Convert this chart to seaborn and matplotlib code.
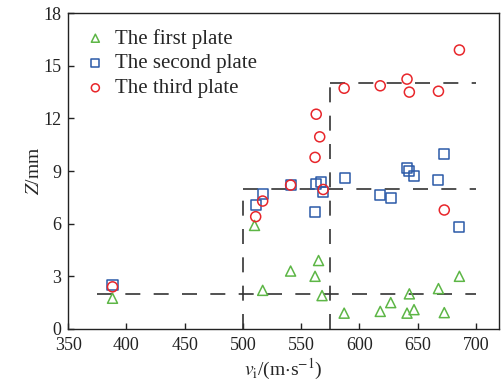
import matplotlib
matplotlib.use("Agg")
import matplotlib.pyplot as plt
import seaborn as sns
import pandas as pd

# data
first_v = [388, 510, 517, 541, 562, 565, 568, 587, 618, 627, 641, 643, 647, 668, 673, 686]
first_z = [1.75, 5.9, 2.2, 3.3, 3.0, 3.9, 1.9, 0.9, 1.0, 1.5, 0.9, 2.0, 1.1, 2.3, 0.93, 3.0]

second_v = [388, 511, 517, 541, 562, 563, 567, 569, 588, 618, 627, 641, 643, 647, 668, 673, 686]
second_z = [2.5, 7.06, 7.69, 8.2, 6.66, 8.24, 8.37, 7.78, 8.6, 7.63, 7.46, 9.15, 9.0, 8.7, 8.5, 9.95, 5.83]

third_v = [388, 511, 517, 541, 562, 563, 566, 569, 587, 618, 641, 643, 668, 673, 686]
third_z = [2.4, 6.4, 7.29, 8.2, 9.78, 12.24, 10.95, 7.95, 13.72, 13.86, 14.24, 13.5, 13.55, 6.78, 15.9]

labels = ["The first plate", "The second plate", "The third plate"]

# threshold step lines
step_h = [(2, 375, 700), (8, 500, 700), (14, 575, 700)]
step_v = [(500, 0, 8), (575, 0, 14)]

df = pd.concat([
    pd.DataFrame({"v": first_v, "z": first_z, "plate": labels[0]}),
    pd.DataFrame({"v": second_v, "z": second_z, "plate": labels[1]}),
    pd.DataFrame({"v": third_v, "z": third_z, "plate": labels[2]}),
])

sns.set_style("ticks")
plt.rcParams["font.family"] = ["Liberation Serif", "DejaVu Serif"]
plt.rcParams["mathtext.fontset"] = "stix"

fig = plt.figure(figsize=(5.02, 3.87), dpi=100)
ax = fig.add_axes([0.136, 0.150, 0.858, 0.816])

dash = dict(color="#333333", lw=1.2, ls=(0, (9, 8)), zorder=1)
for y, x0, x1 in step_h:
    ax.plot([x0, x1], [y, y], **dash)
for x, y0, y1 in step_v:
    ax.plot([x, x], [y0, y1], **dash)

colors = {labels[0]: "#5db646", labels[1]: "#2b5aa8", labels[2]: "#e8262b"}
markers = {labels[0]: "^", labels[1]: "s", labels[2]: "o"}
for lab in labels:
    sub = df[df["plate"] == lab]
    sns.scatterplot(x=sub["v"], y=sub["z"], ax=ax, marker=markers[lab],
                    facecolors="none", edgecolor=colors[lab], linewidth=1.1,
                    s=52, label=lab, zorder=3)

ax.set_xlim(350, 720)
ax.set_ylim(0, 18)
ax.set_xticks(range(350, 701, 50))
ax.set_yticks(range(0, 19, 3))
ax.tick_params(direction="in", length=4, width=1, labelsize=13, colors="#222222")
ax.tick_params(axis="x", pad=6)
ax.tick_params(axis="y", pad=5)
for s in ax.spines.values():
    s.set_color("#222222")
    s.set_linewidth(1)

ax.set_xlabel(r"$v_{\mathrm{i}}$/(m$\cdot$s$^{-1}$)", fontsize=14, labelpad=2)
ax.set_ylabel(r"$Z$/mm", fontsize=14, labelpad=0)

ax.legend(loc="upper left", frameon=False, fontsize=15, handletextpad=0.4,
          handlelength=1.1, markerscale=0.8, labelspacing=0.25,
          borderaxespad=0.3, borderpad=0.45)

fig.savefig("out.png", dpi=100)
